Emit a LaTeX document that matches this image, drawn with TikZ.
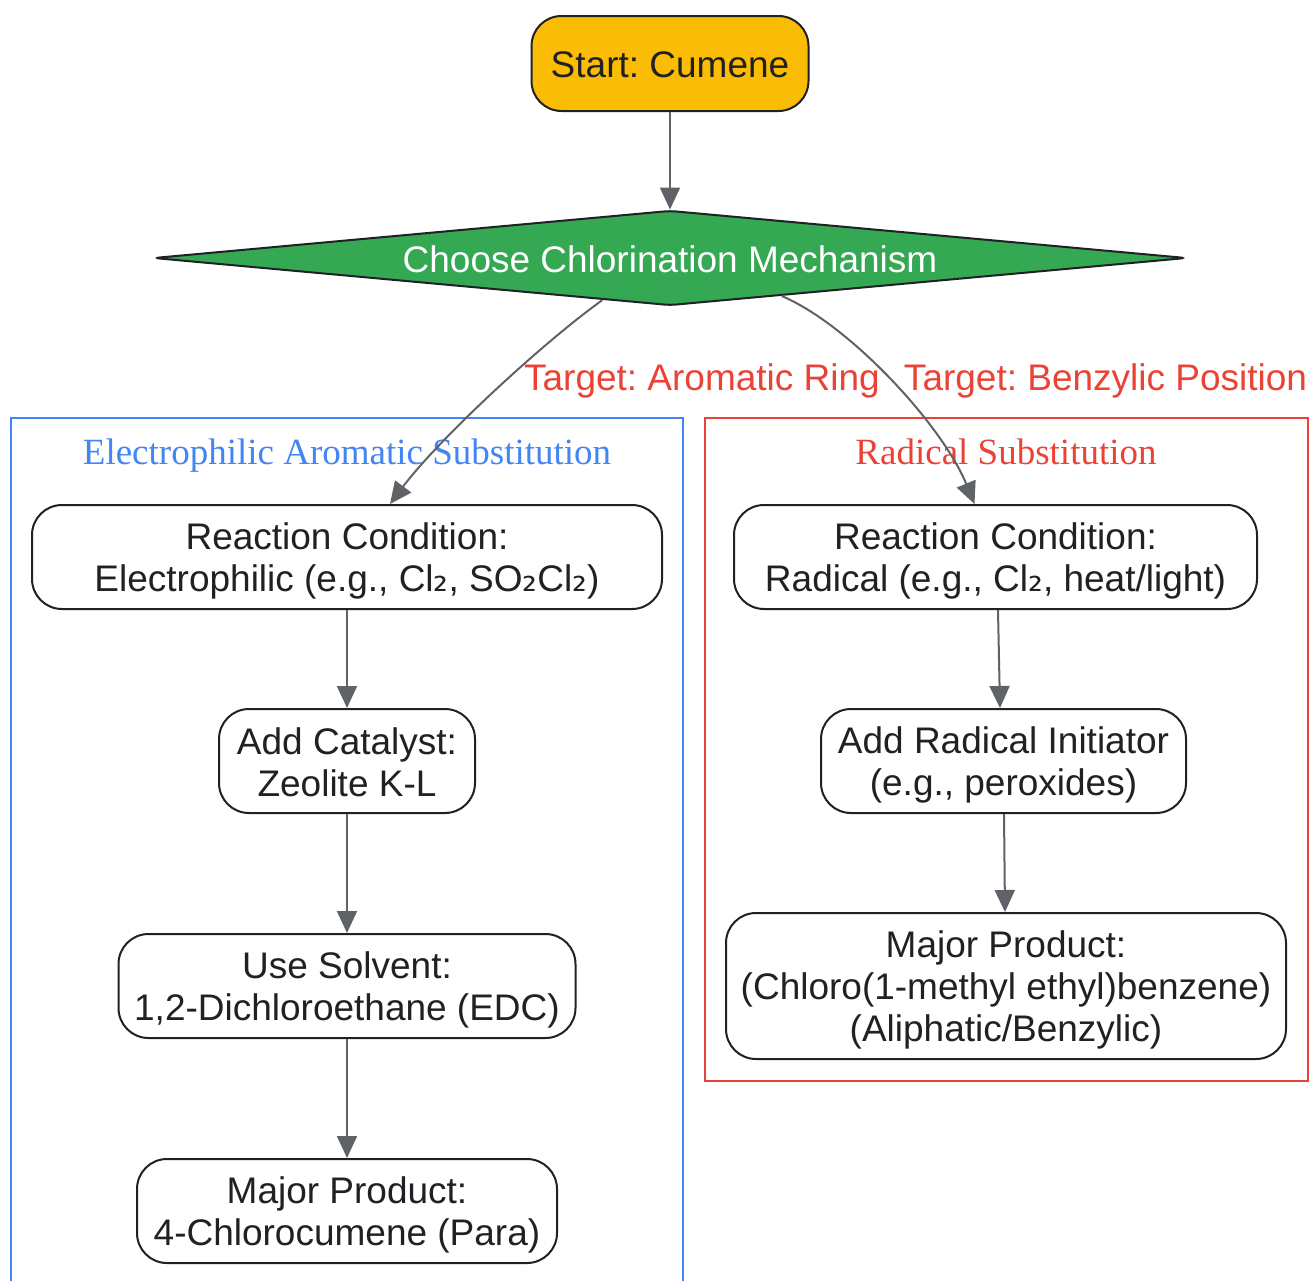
\documentclass[tikz,border=0pt]{standalone}
\usepackage{fontspec}
\setmainfont{Liberation Sans}
\newfontfamily\clfont{Liberation Serif}
\newfontfamily\subfnt{DejaVu Sans}
\usetikzlibrary{arrows.meta,shapes.geometric,calc}
\definecolor{startY}{HTML}{FBBC05}
\definecolor{decG}{HTML}{34A853}
\definecolor{gBlue}{HTML}{4285F4}
\definecolor{gRed}{HTML}{EA4335}
\definecolor{edgeG}{HTML}{5F6368}
\definecolor{txt}{HTML}{202124}
\newcommand{\subtwo}{{\subfnt ₂}}
\newcommand{\ls}{\rule[-6.7pt]{0pt}{42pt}}
\newcommand{\lt}{\rule[-8.2pt]{0pt}{42pt}}
\lineskiplimit=-100pt
\frenchspacing
\begin{document}
\begin{tikzpicture}[x=1pt,y=-1pt,
  every node/.style={font=\fontsize{37}{42}\selectfont, text=txt},
  box/.style={draw=txt, line width=2pt, fill=white, rounded corners=30pt, align=center, inner sep=0pt},
  conn/.style={draw=edgeG, line width=2pt, -{Triangle[length=22pt,width=20pt]}},
  elabel/.style={text=gRed},
  cltitle/.style={font=\clfont\fontsize{37}{42}\selectfont},
  cluster/.style={line width=2pt}]
\useasboundingbox (0,0) rectangle (1309,1280);

% clusters
\draw[cluster, gBlue] (11,1282) -- (11,418) -- (683,418) -- (683,1282);
\draw[cluster, gRed] (705,418) rectangle (1308,1081);
\node[cltitle, text=gBlue] (t1) at (347,452) {\lt Electrophilic Aromatic Substitution};
\node[cltitle, text=gRed] (t2) at (1006,452) {\lt Radical Substitution};

% nodes
\node[box, fill=startY, minimum width=277pt, minimum height=95pt] (start) at (670,63.5) {\ls Start: Cumene};
\node[diamond, draw=txt, line width=2pt, fill=decG, minimum width=1033pt, minimum height=95pt,
      inner sep=0pt, aspect=11, rounded corners=6pt, text=white] (dec) at (670,258) {\ls Choose Chlorination Mechanism};

\node[box, minimum width=630pt, minimum height=104pt] (rc1) at (347,557) {\ls Reaction Condition:\\\ls Electrophilic (e.g., Cl\subtwo, SO\subtwo Cl\subtwo)};
\node[box, minimum width=256pt, minimum height=104pt] (cat) at (347,761) {\ls Add Catalyst:\\\ls Zeolite K-L};
\node[box, minimum width=457pt, minimum height=104pt] (sol) at (347,986) {\ls Use Solvent:\\\ls 1,2-Dichloroethane (EDC)};
\node[box, minimum width=420pt, minimum height=104pt] (p1) at (347,1211) {\ls Major Product:\\\ls 4-Chlorocumene (Para)};

\node[box, minimum width=523pt, minimum height=104pt] (rc2) at (995.5,557) {\ls Reaction Condition:\\\ls Radical (e.g., Cl\subtwo, heat/light)};
\node[box, minimum width=365pt, minimum height=104pt] (ini) at (1003.5,761) {\ls Add Radical Initiator\\\ls (e.g., peroxides)};
\node[box, minimum width=560pt, minimum height=146pt] (p2) at (1006,986) {\ls Major Product:\\\ls (Chloro(1-methyl ethyl)benzene)\\\ls (Aliphatic/Benzylic)};

% edges
\draw[conn] (start) -- (dec);
\draw[conn] ($(dec.west)!0.869!(dec.south)$) .. controls (540,345) and (438,440) .. ($(rc1.north)+(43pt,0)$);
\draw[conn] ($(dec.south)!0.216!(dec.east)$) .. controls (850,325) and (942,425) .. ($(rc2.north)+(-21pt,0)$);
\node[elabel] (l1) at (702,381) {Target: Aromatic Ring};
\node[elabel] (l2) at (1105.5,381) {Target: Benzylic Position};

\draw[conn] (rc1) -- (cat);
\draw[conn] (cat) -- (sol);
\draw[conn] (sol) -- (p1);
\draw[conn] ($(rc2.south)+(2.5pt,0)$) -- ($(ini.north)+(-3.5pt,0)$);
\draw[conn] ($(ini.south)+(0.5pt,0)$) -- ($(p2.north)+(-1pt,0)$);
\end{tikzpicture}
\end{document}
